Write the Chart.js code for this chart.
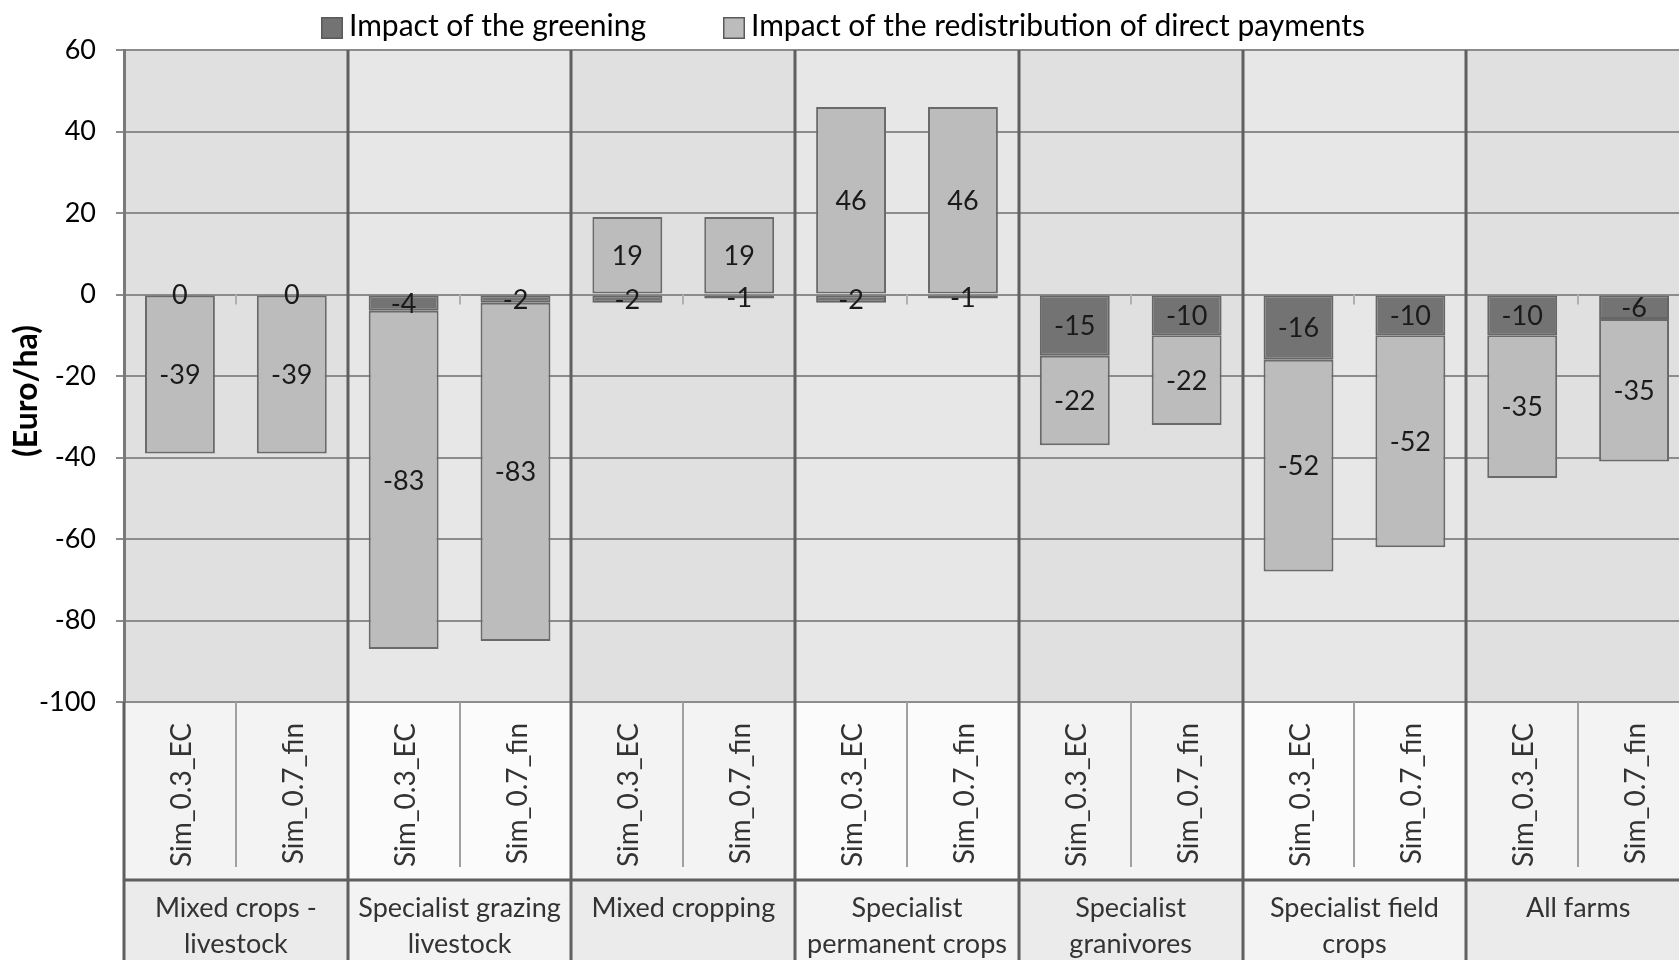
<!DOCTYPE html>
<html>
<head>
<meta charset="utf-8">
<script src="https://cdn.jsdelivr.net/npm/chart.js@4.4.1/dist/chart.umd.min.js"></script>
<style>
  html, body { margin: 0; padding: 0; background: #ffffff; overflow: hidden; }
  #wrap { width: 1700px; height: 1000px; }
</style>
</head>
<body>
<div id="wrap"><canvas id="chart" width="1700" height="1000"></canvas></div>
<script>
// Farm types (outer category level), each split into one or two text lines
const farmTypes = [
  ['Mixed crops -', 'livestock'],
  ['Specialist grazing', 'livestock'],
  ['Mixed cropping'],
  ['Specialist', 'permanent crops'],
  ['Specialist', 'granivores'],
  ['Specialist field', 'crops'],
  ['All farms']
];
// Simulation scenarios (inner category level)
const scenarios = ['Sim_0.3_EC', 'Sim_0.7_fin'];

// Euro/ha, in farm-type order, two scenarios per farm type
const greening       = [0, 0, -4, -2, -2, -1, -2, -1, -15, -10, -16, -10, -10, -6];
const redistribution = [-39, -39, -83, -83, 19, 19, 46, 46, -22, -22, -52, -52, -35, -35];

const yTicks = [60, 40, 20, 0, -20, -40, -60, -80, -100];
const yTitle = '(Euro/ha)';
const seriesNames = ['Impact of the greening', 'Impact of the redistribution of direct payments'];

const categoryLabels = farmTypes.flatMap(() => scenarios);

const FONT = 'Lato, "Open Sans", sans-serif';
const SIM_ROW_H = 178;   // height of the rotated scenario label row

// boundary pixel between category i-1 and i on the x scale
function boundary(xs, i) {
  const n = xs.getLabels().length;
  if (i <= 0) return xs.left;
  if (i >= n) return xs.right;
  return (xs.getPixelForValue(i - 1) + xs.getPixelForValue(i)) / 2;
}

// Alternating shaded bands behind each farm type (plot, scenario row, farm-type row)
const bandsPlugin = {
  id: 'bands',
  beforeDraw(chart) {
    const { ctx, chartArea } = chart;
    const xs = chart.scales.x;
    const simBottom = chartArea.bottom + SIM_ROW_H;
    ctx.save();
    farmTypes.forEach((_, k) => {
      const x0 = boundary(xs, k * scenarios.length);
      const x1 = boundary(xs, (k + 1) * scenarios.length);
      const odd = k % 2 === 1;
      ctx.fillStyle = odd ? '#e7e7e7' : '#e0e0e0';
      ctx.fillRect(x0, chartArea.top, x1 - x0, chartArea.bottom - chartArea.top);
      ctx.fillStyle = odd ? '#fbfbfb' : '#f3f3f3';
      ctx.fillRect(x0, chartArea.bottom, x1 - x0, SIM_ROW_H);
      ctx.fillStyle = odd ? '#f3f3f3' : '#ebebeb';
      ctx.fillRect(x0, simBottom, x1 - x0, chart.height - simBottom);
    });
    ctx.restore();
  }
};

// Value labels centred in each stacked segment
const valueLabels = {
  id: 'valueLabels',
  afterDatasetsDraw(chart) {
    const { ctx } = chart;
    ctx.save();
    ctx.font = `27px ${FONT}`;
    ctx.fillStyle = '#1a1a1a';
    ctx.textAlign = 'center';
    ctx.textBaseline = 'middle';
    chart.data.datasets.forEach((ds, i) => {
      const meta = chart.getDatasetMeta(i);
      meta.data.forEach((bar, j) => {
        const p = bar.getProps(['x', 'y', 'base'], true);
        ctx.fillText(String(ds.data[j]), p.x, (p.y + p.base) / 2 + 1);
      });
    });
    ctx.restore();
  }
};

// Category table below the plot, group dividers, axis title and legend
const framePlugin = {
  id: 'frame',
  afterDraw(chart) {
    const { ctx, chartArea } = chart;
    const xs = chart.scales.x;
    const ys = chart.scales.y;
    const n = categoryLabels.length;
    const simTop = chartArea.bottom;
    const simBottom = simTop + SIM_ROW_H;
    const y0 = ys.getPixelForValue(0);
    ctx.save();

    // small ticks on the zero line between the two scenarios of a farm type
    ctx.strokeStyle = '#b0b0b0';
    ctx.lineWidth = 2;
    for (let i = 1; i < n; i += 2) {
      const bx = Math.round(boundary(xs, i));
      ctx.beginPath();
      ctx.moveTo(bx, y0);
      ctx.lineTo(bx, y0 + 10);
      ctx.stroke();
    }

    // thin dividers between scenario labels
    ctx.strokeStyle = '#a0a0a0';
    ctx.lineWidth = 2;
    for (let i = 1; i < n; i += 2) {
      const bx = Math.round(boundary(xs, i));
      ctx.beginPath();
      ctx.moveTo(bx, simTop);
      ctx.lineTo(bx, simBottom - 13);
      ctx.stroke();
    }

    // heavy rule between scenario row and farm-type row
    ctx.strokeStyle = '#5f5f5f';
    ctx.lineWidth = 3;
    ctx.beginPath();
    ctx.moveTo(xs.left, simBottom);
    ctx.lineTo(xs.right, simBottom);
    ctx.stroke();

    // heavy dividers between farm types
    for (let k = 0; k <= farmTypes.length; k++) {
      const bx = Math.round(boundary(xs, k * scenarios.length));
      ctx.beginPath();
      ctx.moveTo(bx, k === 0 ? simTop : chartArea.top);
      ctx.lineTo(bx, chart.height);
      ctx.stroke();
    }

    // rotated scenario labels
    ctx.font = `28px ${FONT}`;
    ctx.fillStyle = '#333333';
    ctx.textAlign = 'right';
    ctx.textBaseline = 'alphabetic';
    categoryLabels.forEach((lab, i) => {
      const cx = xs.getPixelForValue(i);
      ctx.save();
      ctx.translate(cx + 11, simTop + 21);
      ctx.rotate(-Math.PI / 2);
      ctx.fillText(lab, 0, 0);
      ctx.restore();
    });

    // farm-type labels
    ctx.font = `27px ${FONT}`;
    ctx.fillStyle = '#333333';
    ctx.textAlign = 'center';
    farmTypes.forEach((lines, k) => {
      const x0 = boundary(xs, k * scenarios.length);
      const x1 = boundary(xs, (k + 1) * scenarios.length);
      lines.forEach((line, li) => {
        ctx.fillText(line, (x0 + x1) / 2, simBottom + 37 + li * 36);
      });
    });

    // y axis title
    ctx.font = `bold 32px ${FONT}`;
    ctx.fillStyle = '#000000';
    ctx.textAlign = 'center';
    ctx.textBaseline = 'middle';
    ctx.save();
    ctx.translate(27, 391);
    ctx.rotate(-Math.PI / 2);
    ctx.fillText(yTitle, 0, 0);
    ctx.restore();

    // legend
    const legendX = [321, 723];
    chart.data.datasets.forEach((ds, i) => {
      const lx = legendX[i];
      ctx.fillStyle = ds.backgroundColor;
      ctx.fillRect(lx, 17, 22, 22);
      ctx.strokeStyle = '#5a5a5a';
      ctx.lineWidth = 1.5;
      ctx.strokeRect(lx + 0.75, 17.75, 20.5, 20.5);
      ctx.font = `30px ${FONT}`;
      ctx.fillStyle = '#000000';
      ctx.textAlign = 'left';
      ctx.textBaseline = 'alphabetic';
      ctx.fillText(ds.label, lx + 28, 36);
    });

    ctx.restore();
  }
};

new Chart(document.getElementById('chart'), {
  type: 'bar',
  data: {
    labels: categoryLabels,
    datasets: [
      {
        label: seriesNames[0],
        data: greening,
        backgroundColor: '#737373',
        borderColor: '#666666',
        borderWidth: 2,
        borderSkipped: false
      },
      {
        label: seriesNames[1],
        data: redistribution,
        backgroundColor: '#bcbcbc',
        borderColor: '#6a6a6a',
        borderWidth: 2,
        borderSkipped: false
      }
    ]
  },
  options: {
    responsive: false,
    devicePixelRatio: 1,
    animation: false,
    events: [],
    layout: { padding: { top: 50, right: 10, left: 0, bottom: 0 } },
    datasets: { bar: { categoryPercentage: 1, barPercentage: 0.625 } },
    plugins: {
      legend: { display: false },
      tooltip: { enabled: false }
    },
    scales: {
      x: {
        stacked: true,
        grid: { display: false },
        border: { display: false },
        ticks: { display: false },
        afterFit(scale) { scale.height = 298; }
      },
      y: {
        stacked: true,
        min: Math.min(...yTicks),
        max: Math.max(...yTicks),
        afterBuildTicks(scale) { scale.ticks = yTicks.map(v => ({ value: v })); },
        ticks: {
          font: { family: FONT, size: 27 },
          color: '#000000',
          padding: 20
        },
        grid: {
          color: '#8c8c8c',
          lineWidth: 2,
          tickLength: 8,
          tickColor: '#8c8c8c'
        },
        border: { display: true, color: '#7a7a7a', width: 3 },
        afterFit(scale) { scale.width = 124; }
      }
    }
  },
  plugins: [bandsPlugin, valueLabels, framePlugin]
});
</script>
</body>
</html>
